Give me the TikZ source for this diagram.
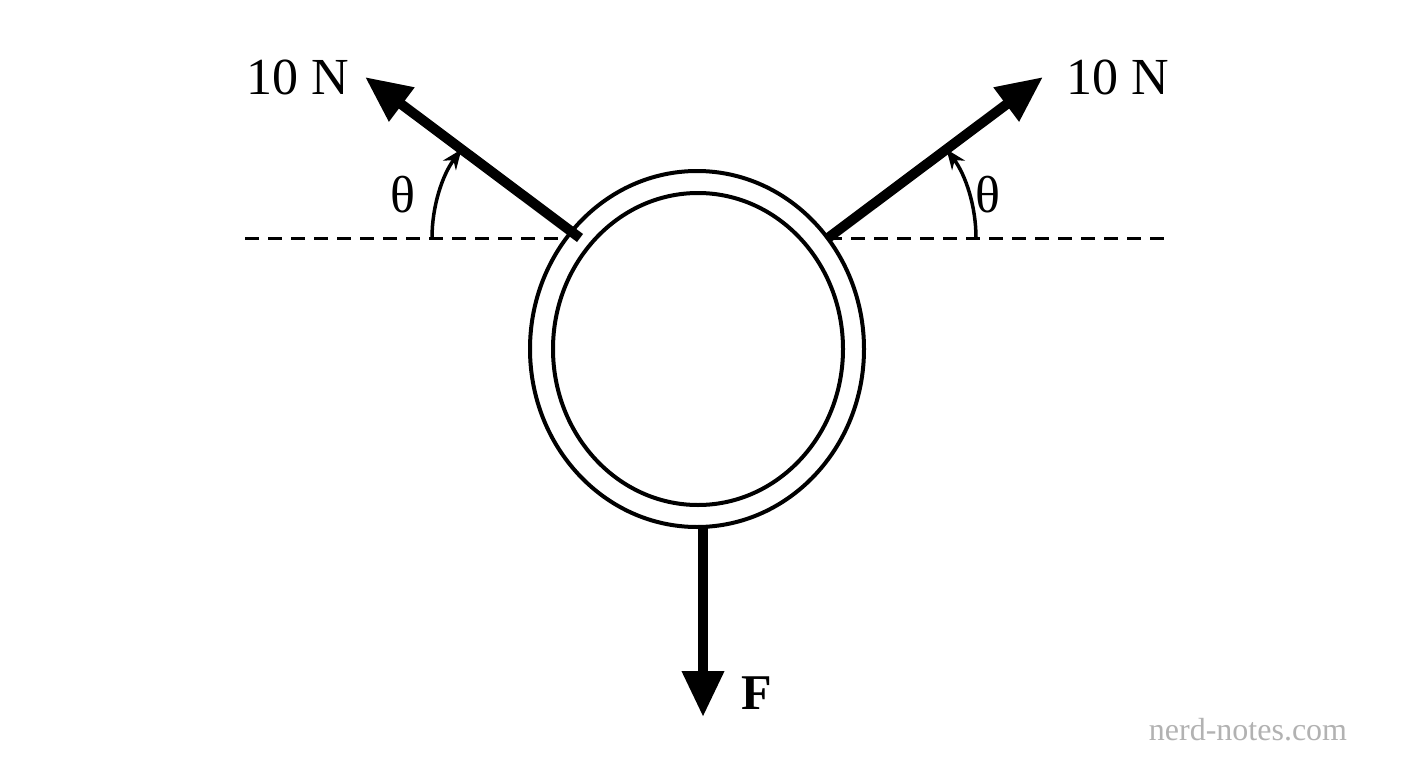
\documentclass[tikz,border=0pt]{standalone}
\usepackage{fontspec}
\setmainfont{Liberation Serif}
\usetikzlibrary{arrows.meta}
\begin{document}
\begin{tikzpicture}[x=1pt,y=-1pt,
  force/.style={line width=10pt,-{Triangle[length=46pt,width=40pt]}},
  ang/.style={line width=3.5pt,-{Stealth[length=20pt,width=16pt]}},
  dashline/.style={line width=3pt,dash pattern=on 14pt off 9pt},
  lbl/.style={font=\fontsize{52}{52}\selectfont}]
\useasboundingbox (0,0) rectangle (1408,768);
\fill[white] (0,0) rectangle (1408,768);
\coordinate (L0) at (580,238);
\coordinate (R0) at (828,238);
\coordinate (LT) at (365,77);
\coordinate (RT) at (1043,77);
\coordinate (D0) at (703,527);
\coordinate (DT) at (703,717);
\coordinate (DL) at (245,238);
\coordinate (DR) at (1165,238);
\draw[dashline] (DL) -- (L0);
\draw[dashline] (R0) -- (DR);
\draw[line width=4pt,fill=white] (697,349) ellipse [x radius=167,y radius=178];
\draw[line width=4pt] (698,349) ellipse [x radius=145,y radius=156];
\draw[force] (L0) -- (LT);
\draw[force] (R0) -- (RT);
\draw[force] (D0) -- (DT);
\draw[ang] (432,238) arc[start angle=180,end angle=216.8,radius=148];
\draw[ang] (976,238) arc[start angle=0,end angle=-36.8,radius=148];
\node[lbl] (l1) at (298,77) {10 N};
\node[lbl] (l2) at (1118,77) {10 N};
\node[lbl] (t1) at (403,195) {θ};
\node[lbl] (t2) at (988,195) {θ};
\node[lbl,font=\fontsize{50}{50}\selectfont\bfseries] (f) at (757,693) {F};
\node[text=gray!60,font=\fontsize{32}{32}\selectfont] (w) at (1248,730) {nerd-notes.com};
\end{tikzpicture}
\end{document}
